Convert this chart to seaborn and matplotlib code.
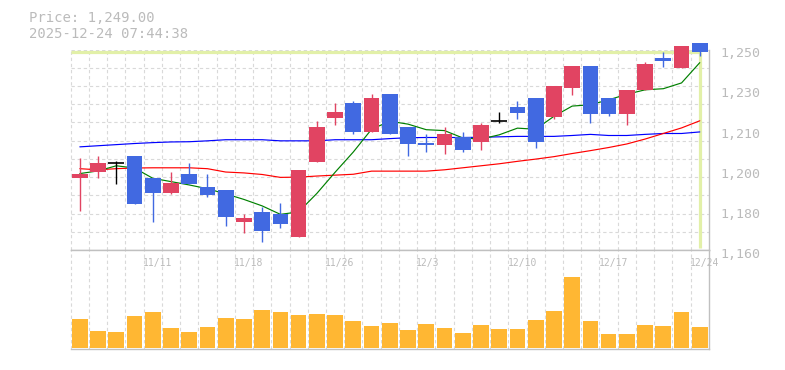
import numpy as np
import matplotlib
matplotlib.use('Agg')
import matplotlib.pyplot as plt
import matplotlib.transforms as mtransforms
import seaborn as sns


dates = ['11/5', '11/6', '11/7', '11/10', '11/11', '11/12', '11/13', '11/14', '11/17', '11/18',
         '11/19', '11/20', '11/21', '11/25', '11/26', '11/27', '11/28', '12/1', '12/2', '12/3',
         '12/4', '12/5', '12/8', '12/9', '12/10', '12/11', '12/12', '12/15', '12/16', '12/17',
         '12/18', '12/19', '12/22', '12/23', '12/24']
label_dates = ['11/11', '11/18', '11/26', '12/3', '12/10', '12/17', '12/24']

opens = [1192.1, 1194.8, 1199.0, 1202.3, 1192.4, 1185.8, 1194.3, 1188.5, 1187.0, 1172.7,
         1177.1, 1176.2, 1166.0, 1199.7, 1219.1, 1226.2, 1212.8, 1230.2, 1215.4, 1208.2,
         1207.0, 1210.5, 1208.7, 1218.0, 1224.4, 1228.4, 1219.9, 1232.9, 1242.4, 1228.4,
         1220.9, 1231.7, 1246.3, 1241.9, 1253.0]
highs = [1201.4, 1202.3, 1200.0, 1202.3, 1192.4, 1195.1, 1199.2, 1194.3, 1187.0, 1176.2,
         1179.4, 1181.2, 1196.0, 1218.0, 1226.2, 1227.0, 1230.2, 1230.2, 1215.4, 1212.2,
         1215.4, 1213.1, 1217.2, 1222.1, 1227.0, 1228.4, 1233.4, 1242.4, 1242.4, 1228.4,
         1232.0, 1244.2, 1249.0, 1251.4, 1253.0]
lows = [1177.7, 1192.1, 1189.8, 1180.8, 1172.7, 1185.1, 1189.8, 1184.0, 1170.9, 1167.8,
        1163.7, 1170.0, 1166.0, 1199.7, 1215.9, 1211.9, 1212.8, 1211.9, 1202.0, 1203.8,
        1202.9, 1203.8, 1204.7, 1217.0, 1219.0, 1206.0, 1219.0, 1229.8, 1216.8, 1220.0,
        1215.9, 1231.7, 1242.2, 1241.9, 1247.0]
closes = [1194.2, 1199.2, 1199.0, 1180.8, 1185.8, 1190.2, 1189.8, 1184.9, 1175.0, 1174.4,
          1168.7, 1171.8, 1196.0, 1215.4, 1222.1, 1212.8, 1228.4, 1211.9, 1207.8, 1207.0,
          1212.2, 1204.7, 1216.2, 1218.0, 1221.7, 1208.7, 1233.4, 1242.4, 1220.9, 1220.9,
          1232.0, 1243.3, 1244.9, 1251.4, 1249.0]

# moving averages (short / mid / long)
ma_short = [1194.3, 1195.5, 1197.8, 1196.8, 1192.2, 1190.7, 1189.2, 1187.5, 1185.2, 1182.7,
            1179.8, 1176.0, 1177.1, 1185.4, 1194.9, 1204.0, 1214.2, 1217.8, 1216.5, 1214.0,
            1213.6, 1210.3, 1209.8, 1211.7, 1214.7, 1214.2, 1220.0, 1224.6, 1225.2, 1227.4,
            1229.9, 1231.9, 1232.4, 1235.0, 1244.1]
ma_mid = [1196.5, 1196.0, 1196.5, 1196.8, 1196.9, 1196.9, 1196.9, 1196.5, 1195.0, 1194.6,
          1193.9, 1192.6, 1192.7, 1193.2, 1193.6, 1194.0, 1195.4, 1195.4, 1195.4, 1195.4,
          1196.0, 1196.9, 1197.8, 1198.7, 1199.8, 1200.8, 1201.9, 1203.3, 1204.6, 1206.0,
          1207.6, 1209.8, 1212.3, 1214.8, 1218.0]
ma_long = [1206.3, 1206.8, 1207.3, 1207.8, 1208.2, 1208.5, 1208.6, 1209.0, 1209.5, 1209.5,
           1209.5, 1209.0, 1209.0, 1209.0, 1209.5, 1209.5, 1209.5, 1210.0, 1210.4, 1210.5,
           1210.5, 1210.5, 1210.6, 1210.8, 1211.0, 1211.0, 1211.0, 1211.4, 1211.9, 1211.4,
           1211.4, 1211.9, 1212.3, 1212.3, 1213.0]

volume = [29, 17, 16, 32, 36, 20, 16, 21, 30, 29, 38, 36, 33, 34, 33, 27, 22, 25, 18, 24,
          20, 15, 23, 19, 19, 28, 37, 71, 27, 14, 14, 23, 22, 36, 21]

price_ticks = [1160, 1178, 1196, 1214, 1232, 1250]
price_labels = ['1,160', '1,180', '1,200', '1,210', '1,230', '1,250']
last_price = 1249.0
timestamp = '2025-12-24 07:44:38'

UP = '#e14462'
DOWN = '#4169e1'
GRID = '#d9d9d9'
FRAME = '#c0c0c0'
TXT = '#bbbbbb'
NOW = '#e2f0a8'

sns.set_theme(style='white')
plt.rcParams['font.family'] = ['DejaVu Sans Mono', 'DejaVu Sans']

W, H = 785, 370
fig = plt.figure(figsize=(W / 100, H / 100), dpi=100)
left, right = 70.7, 708.9
ax = fig.add_axes([left / W, 120 / H, (right - left) / W, 200.5 / H])
axv = fig.add_axes([left / W, 21 / H, (right - left) / W, 99 / H])

n = len(dates)
idx = list(range(n))
ymin, ymax = 1160, 1250

# grid
for a in (ax, axv):
    for k in range(n):
        a.axvline(k - 0.5, color=GRID, lw=0.8, ls=(0, (3, 2.5)), zorder=0.5, clip_on=False)
step = (ymax - ymin) / 11
for k in range(1, 12):
    ax.axhline(ymin + k * step, color=GRID, lw=0.8, ls=(0, (3, 2.5)), zorder=0.5)

# current price / time marker
ax.plot([-0.5, n - 1], [last_price, last_price], color=NOW, lw=2.3, zorder=1, solid_capstyle='butt')
ax.plot([n - 1, n - 1], [last_price, ymin + 0.9], color=NOW, lw=2.3, zorder=1, solid_capstyle='butt')

# moving averages
sns.lineplot(x=idx, y=ma_long, ax=ax, color='#0000ff', linewidth=0.85, zorder=2)
sns.lineplot(x=idx, y=ma_mid, ax=ax, color='#ff0000', linewidth=0.85, zorder=2)
sns.lineplot(x=idx, y=ma_short, ax=ax, color='#008000', linewidth=0.85, zorder=2)

# candles
cols = []
for o, c in zip(opens, closes):
    if c > o:
        cols.append(UP)
    elif c < o:
        cols.append(DOWN)
    else:
        cols.append('black')
ax.vlines(idx, lows, highs, colors=cols, lw=1.0, zorder=3, clip_on=False)
bottoms = [min(o, c) for o, c in zip(opens, closes)]
heights = [abs(c - o) for o, c in zip(opens, closes)]
ax.bar(idx, heights, bottom=bottoms, width=0.86, color=cols, zorder=4, linewidth=0,
       clip_on=False)
for i, (o, c) in enumerate(zip(opens, closes)):
    if o == c:
        ax.hlines(o, i - 0.43, i + 0.43, colors='black', lw=1.2, zorder=4)

ax.set_xlim(-0.5, n - 0.5)
ax.set_ylim(ymin, ymax)
ax.set_xticks([])
ax.set_yticks([])
for s in ('top', 'left'):
    ax.spines[s].set_visible(False)
for s in ('bottom', 'right'):
    ax.spines[s].set_color(FRAME)
    ax.spines[s].set_linewidth(1.0)

# price labels on the right
tr = mtransforms.blended_transform_factory(ax.transAxes, ax.transData)
tr = mtransforms.offset_copy(tr, fig=fig, x=0, y=-7.8, units='dots')
xlab = (720.7 - left) / (right - left)
for v, lab in zip(price_ticks, price_labels):
    ax.text(xlab, v, lab, transform=tr, ha='left', va='baseline', fontsize=9.5,
            color=TXT, clip_on=False)

# volume
sns.barplot(x=idx, y=volume, ax=axv, color='#ffb733', saturation=1, width=0.86,
            errorbar=None, linewidth=0, zorder=2)
axv.set_xlim(-0.5, n - 0.5)
axv.set_ylim(-1.2, 97.8)
axv.set_xticks([])
axv.set_yticks([])
axv.set_xlabel('')
axv.set_ylabel('')
axv.spines['left'].set_visible(False)
for s in ('top', 'bottom', 'right'):
    axv.spines[s].set_color(FRAME)
    axv.spines[s].set_linewidth(1.0)

trv = mtransforms.blended_transform_factory(axv.transData, axv.transAxes)
for d in label_dates:
    i = dates.index(d)
    axv.text(i - 0.55, 1 - 16 / 99, d, transform=trv, ha='left', va='baseline',
             fontsize=7, color=TXT, clip_on=False)

fig.text(29.3 / W, 1 - 21.5 / H, f'Price: {last_price:,.2f}', fontsize=10, color=TXT, va='baseline')
fig.text(29.3 / W, 1 - 37.5 / H, timestamp, fontsize=10, color=TXT, va='baseline')

fig.savefig('out.png', dpi=100)
